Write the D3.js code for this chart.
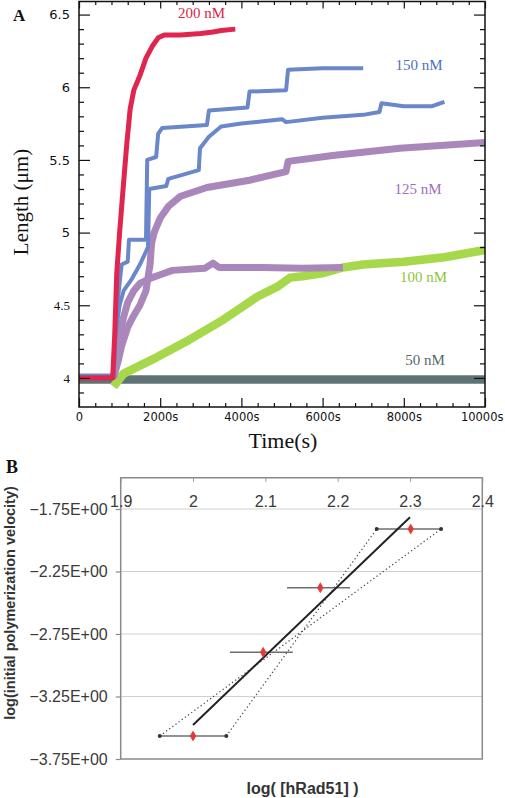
<!DOCTYPE html>
<html><head><meta charset="utf-8">
<script src="https://cdn.jsdelivr.net/npm/d3@7"></script>
<style>body{margin:0;background:#fff}</style>
</head><body>
<svg id="c" width="505" height="798"></svg>
<script>
// ---------- Panel A data: [time (s), length (µm)] ----------
const trace50 = [[0,3.99],[2000,3.99],[4000,3.99],[6000,3.99],[8000,3.99],[10000,3.99]];
const trace100 = [[850,3.94],[1100,4.03],[1900,4.14],[2700,4.26],[3550,4.40],[4400,4.56],[4900,4.63],[5200,4.69],[5500,4.70],[6000,4.72],[6500,4.76],[7000,4.78],[8000,4.80],[9000,4.83],[10000,4.88]];
const trace125a = [[850,4.0],[950,4.1],[1050,4.22],[1200,4.35],[1350,4.43],[1500,4.5],[1650,4.6],[1750,4.78],[1790,4.93],[1850,5.0],[2000,5.1],[2200,5.18],[2500,5.25],[3150,5.31],[4200,5.36],[5100,5.42],[5150,5.49],[6250,5.53],[7900,5.58],[10000,5.62]];
const trace125b = [[850,4.0],[950,4.2],[1000,4.3],[1100,4.42],[1200,4.52],[1350,4.6],[1500,4.65],[1800,4.69],[2000,4.71],[2300,4.74],[3100,4.755],[3300,4.79],[3450,4.76],[4500,4.76],[5500,4.755],[6500,4.76]];
const trace150a = [[0,4.0],[850,4.0],[900,4.35],[980,4.6],[1050,4.78],[1200,4.8],[1230,4.95],[1650,4.95],[1680,5.5],[1900,5.52],[1950,5.68],[2050,5.72],[3150,5.74],[3200,5.84],[4150,5.86],[4200,5.97],[5100,5.98],[5150,6.12],[6000,6.13],[7000,6.13]];
const trace150b = [[0,4.0],[850,4.0],[900,4.3],[1000,4.5],[1100,4.6],[1300,4.68],[1500,4.78],[1700,4.9],[1730,5.3],[2150,5.32],[2200,5.37],[2950,5.43],[2980,5.58],[3200,5.66],[3500,5.73],[4000,5.75],[5000,5.78],[5100,5.76],[6000,5.79],[7000,5.81],[7400,5.83],[7450,5.89],[8000,5.87],[8700,5.87],[9000,5.9]];
const trace200 = [[0,4.0],[830,4.0],[880,4.3],[930,4.72],[1000,5.0],[1100,5.35],[1180,5.62],[1260,5.85],[1350,5.98],[1500,6.08],[1650,6.2],[1800,6.28],[1950,6.34],[2100,6.36],[2500,6.36],[3000,6.37],[3300,6.38],[3500,6.39],[3850,6.4]];
const seriesLabels = ["200 nM","150 nM","125 nM","100 nM","50 nM"];
const timeTicks = [0,2000,4000,6000,8000,10000];
const lengthTicks = [4,4.5,5,5.5,6,6.5];

// ---------- Panel B data ----------
const logConc = [2.0, 2.097, 2.176, 2.301];
const logVel = [-3.566, -2.896, -2.38, -1.91];
const errLo = [1.954, 2.051, 2.130, 2.254];
const errHi = [2.046, 2.138, 2.217, 2.343];
const fitX = [2.0, 2.3];
const fitY = [-3.478, -1.816];
const concTicks = [1.9, 2.0, 2.1, 2.2, 2.3, 2.4];
const velTicks = [-3.75, -3.25, -2.75, -2.25, -1.75];

const svg = d3.select("#c");

// ================= Panel A =================
const x = d3.scaleLinear().domain([0,10000]).range([79,485]);
const y = d3.scaleLinear().domain([3.8,6.59]).range([407,1.5]);
const gA = svg.append("g");

const line = d3.line().x(d=>x(d[0])).y(d=>y(d[1]));
const traces = [
  {d:trace50, c:"#5f7377", w:8.5},
  {d:trace100, c:"#a7d84c", w:8.5},
  {d:trace125a, c:"#a987bb", w:7},
  {d:trace125b, c:"#a987bb", w:7},
  {d:trace150a, c:"#6a87c9", w:4},
  {d:trace150b, c:"#6a87c9", w:4},
  {d:trace200, c:"#e0264e", w:5}
];
// blue halo of the common baseline before injection
gA.append("path").attr("d", line(trace150a.slice(0,2))).attr("fill","none")
  .attr("stroke","#6a87c9").attr("stroke-width",9);
traces.forEach(t=>{
  gA.append("path").attr("d", line(t.d)).attr("fill","none")
    .attr("stroke", t.c).attr("stroke-width", t.w).attr("stroke-linejoin","round");
});

// frame
gA.append("rect").attr("x",x(0)).attr("y",y(6.59)).attr("width",x(10000)-x(0))
  .attr("height",y(3.8)-y(6.59)).attr("fill","none").attr("stroke","#111").attr("stroke-width",1.5);

const minorT = d3.range(0,10001,400).filter(v=>v%2000!==0);
const minorL = d3.range(39,66).map(v=>v/10).filter(v=>Math.round(v*10)%5!==0);
function clean(g){ g.select(".domain").remove(); g.selectAll("line").attr("stroke","#111").attr("stroke-width",1.2); }

gA.append("g").attr("transform",`translate(0,${y(3.8)})`)
  .call(d3.axisBottom(x).tickValues(timeTicks).tickSize(-9).tickPadding(6)
    .tickFormat(d=>d===0?"0":d+"s")).call(clean)
  .selectAll("text").attr("font-family","DejaVu Sans, sans-serif").attr("font-size",11.5).attr("fill","#111")
  .attr("text-anchor",d=>d===10000?"end":"middle").attr("dx",d=>d===10000?18:0);
gA.append("g").attr("transform",`translate(0,${y(3.8)})`)
  .call(d3.axisBottom(x).tickValues(minorT).tickSize(-4).tickFormat("")).call(clean);
gA.append("g").attr("transform",`translate(0,${y(6.59)})`)
  .call(d3.axisTop(x).tickValues(timeTicks).tickSize(-7).tickFormat("")).call(clean);
gA.append("g").attr("transform",`translate(0,${y(6.59)})`)
  .call(d3.axisTop(x).tickValues(minorT).tickSize(-3.5).tickFormat("")).call(clean);

gA.append("g").attr("transform",`translate(${x(0)},0)`)
  .call(d3.axisLeft(y).tickValues(lengthTicks).tickSize(-11).tickPadding(9)
    .tickFormat(d=>String(d))).call(clean)
  .selectAll("text").attr("font-size",13).attr("fill","#111")
  .attr("font-family",d=>d<4.75?"Liberation Serif, serif":"DejaVu Sans, sans-serif");
gA.append("g").attr("transform",`translate(${x(0)},0)`)
  .call(d3.axisLeft(y).tickValues(minorL).tickSize(-5).tickFormat("")).call(clean);
gA.append("g").attr("transform",`translate(${x(10000)},0)`)
  .call(d3.axisRight(y).tickValues(lengthTicks).tickSize(-11).tickFormat("")).call(clean);
gA.append("g").attr("transform",`translate(${x(10000)},0)`)
  .call(d3.axisRight(y).tickValues(minorL).tickSize(-5).tickFormat("")).call(clean);

// series labels
const labelPos = [[201.5,18,"#d8264a"],[419,70,"#4d6fbf"],[418,194,"#a06fb8"],[423.5,282,"#8cc63a"],[425,365,"#55696d"]];
seriesLabels.forEach((s,i)=>{
  gA.append("text").attr("x",labelPos[i][0]).attr("y",labelPos[i][1]).attr("text-anchor","middle")
    .attr("font-family","Liberation Serif, serif").attr("font-size",15).attr("fill",labelPos[i][2]).text(s);
});

gA.append("text").attr("transform","translate(28,202) rotate(-90)").attr("text-anchor","middle")
  .attr("font-family","Liberation Serif, serif").attr("font-size",21).attr("fill","#111").text("Length (μm)");
gA.append("text").attr("x",283).attr("y",448).attr("text-anchor","middle")
  .attr("font-family","Liberation Serif, serif").attr("font-size",22).attr("fill","#111").text("Time(s)");
gA.append("text").attr("x",13).attr("y",21).attr("font-family","Liberation Serif, serif")
  .attr("font-weight","bold").attr("font-size",17).attr("fill","#111").text("A");

// ================= Panel B =================
const bx = d3.scaleLinear().domain([1.9,2.4]).range([120.7,482.3]);
const by = d3.scaleLinear().domain([-3.75,-1.5]).range([759,477.75]);
const gB = svg.append("g");

gB.selectAll("line.grid").data(velTicks.slice(1)).join("line").attr("class","grid")
  .attr("x1",bx(1.9)).attr("x2",bx(2.4)).attr("y1",d=>by(d)).attr("y2",d=>by(d))
  .attr("stroke","#cfcfcf").attr("stroke-width",1.2);

gB.append("rect").attr("x",bx(1.9)).attr("y",by(-1.5)).attr("width",bx(2.4)-bx(1.9))
  .attr("height",by(-3.75)-by(-1.5)).attr("fill","none").attr("stroke","#8a8a8a").attr("stroke-width",1.5);

const sci = v => { const e = v===0?0:Math.floor(Math.log10(Math.abs(v)));
  const m = v/Math.pow(10,e); const es = (e<0?"-":"+") + String(Math.abs(e)).padStart(2,"0");
  return (m<0?"\u2212":"") + Math.abs(m).toFixed(2) + "E" + es; };

gB.append("g").attr("transform",`translate(${bx(1.9)},0)`)
  .call(d3.axisLeft(by).tickValues(velTicks).tickSize(5).tickPadding(8).tickFormat(sci))
  .call(g=>{g.select(".domain").remove(); g.selectAll("line").attr("stroke","#8a8a8a").attr("stroke-width",1.2);})
  .selectAll("text").attr("font-family","Liberation Sans, Arial, sans-serif").attr("font-size",16).attr("fill","#3a3a3a");

gB.append("g").attr("transform",`translate(0,${by(-1.5)})`)
  .call(d3.axisTop(bx).tickValues(concTicks).tickSize(-4).tickFormat(d=>String(+d.toFixed(1))))
  .call(g=>{g.select(".domain").remove(); g.selectAll("line").attr("stroke","#9a9a9a").attr("stroke-width",1);})
  .selectAll("text").attr("y",29.5).attr("dy",null)
  .attr("font-family","Liberation Sans, Arial, sans-serif").attr("font-size",16).attr("fill","#3a3a3a");

// dotted envelope lines (min / max slope through the error-bar ends)
const n = logConc.length;
const env = [[[errLo[0],logVel[0]],[errHi[n-1],logVel[n-1]]],[[errHi[0],logVel[0]],[errLo[n-1],logVel[n-1]]]];
const bline = d3.line().x(d=>bx(d[0])).y(d=>by(d[1]));
env.forEach(e=>{
  gB.append("path").attr("d",bline(e)).attr("fill","none").attr("stroke","#444")
    .attr("stroke-width",1.2).attr("stroke-dasharray","1.3,2.6");
});

// error bars
gB.selectAll("line.err").data(logConc).join("line").attr("class","err")
  .attr("x1",(d,i)=>bx(errLo[i])).attr("x2",(d,i)=>bx(errHi[i]))
  .attr("y1",(d,i)=>by(logVel[i])).attr("y2",(d,i)=>by(logVel[i]))
  .attr("stroke","#6e6e6e").attr("stroke-width",1.5);

// end dots of the envelope
env.flat().forEach(p=>{
  gB.append("circle").attr("cx",bx(p[0])).attr("cy",by(p[1])).attr("r",2).attr("fill","#333");
});

// fit line
gB.append("path").attr("d",bline(fitX.map((v,i)=>[v,fitY[i]]))).attr("fill","none")
  .attr("stroke","#222").attr("stroke-width",2);

// points
gB.selectAll("path.pt").data(logConc).join("path").attr("class","pt")
  .attr("transform",(d,i)=>`translate(${bx(d)},${by(logVel[i])})`)
  .attr("d",d3.symbol(d3.symbolDiamond,36)).attr("fill","#e23b36");

gB.append("text").attr("transform","translate(15,603) rotate(-90)").attr("text-anchor","middle")
  .attr("font-family","Liberation Sans, Arial, sans-serif").attr("font-weight","bold").attr("font-size",14.5)
  .attr("fill","#333").text("log(initial polymerization velocity)");
gB.append("text").attr("x",302.5).attr("y",794).attr("text-anchor","middle")
  .attr("font-family","Liberation Sans, Arial, sans-serif").attr("font-weight","bold").attr("font-size",16)
  .attr("fill","#333").text("log( [hRad51] )");
gB.append("text").attr("x",6).attr("y",473).attr("font-family","Liberation Serif, serif")
  .attr("font-weight","bold").attr("font-size",18).attr("fill","#111").text("B");
</script>
</body></html>
